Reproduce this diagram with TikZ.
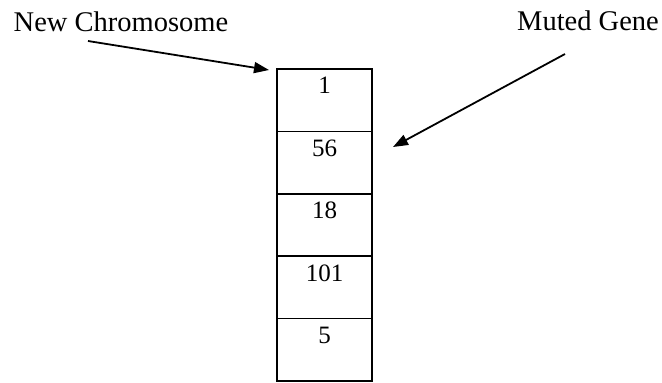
\documentclass[tikz,border=0pt]{standalone}
\usepackage{fontspec}
\setmainfont{Liberation Serif}
\usetikzlibrary{arrows.meta}
\begin{document}
\begin{tikzpicture}[x=1pt,y=-1pt,
  cell/.style={draw=black,line width=1.7pt,minimum width=95pt,minimum height=62.4pt,inner sep=0pt,outer sep=0pt,anchor=north},
  digit/.style={anchor=base,font=\fontsize{25}{28}\selectfont,inner sep=0pt},
  lbl/.style={anchor=base,font=\fontsize{28.5}{32}\selectfont,inner sep=0pt},
  pointer/.style={line width=1.8pt,-{Triangle[length=15pt,width=11pt]}}]
\useasboundingbox (0,0) rectangle (662,383);
\node[cell] (c1) at (324.5,69) {};
\node[cell] (c2) at (324.5,131.4) {};
\node[cell] (c3) at (324.5,193.8) {};
\node[cell] (c4) at (324.5,256.2) {};
\node[cell] (c5) at (324.5,318.6) {};
\node[digit] (d1) at ([yshift=-24pt]c1.north) {1};
\node[digit] (d2) at ([yshift=-25pt]c2.north) {56};
\node[digit] (d3) at ([yshift=-25pt]c3.north) {18};
\node[digit] (d4) at ([yshift=-25pt]c4.north) {101};
\node[digit] (d5) at ([yshift=-25pt]c5.north) {5};
\node[lbl] (nc) at (121,31) {New Chromosome};
\node[lbl] (mg) at (588,30) {Muted Gene};
\coordinate (ncs) at (88,41);
\coordinate (nce) at (269,70);
\coordinate (mgs) at (565,54);
\coordinate (mge) at (393,147);
\draw[pointer] (ncs) -- (nce);
\draw[pointer] (mgs) -- (mge);
\end{tikzpicture}
\end{document}
